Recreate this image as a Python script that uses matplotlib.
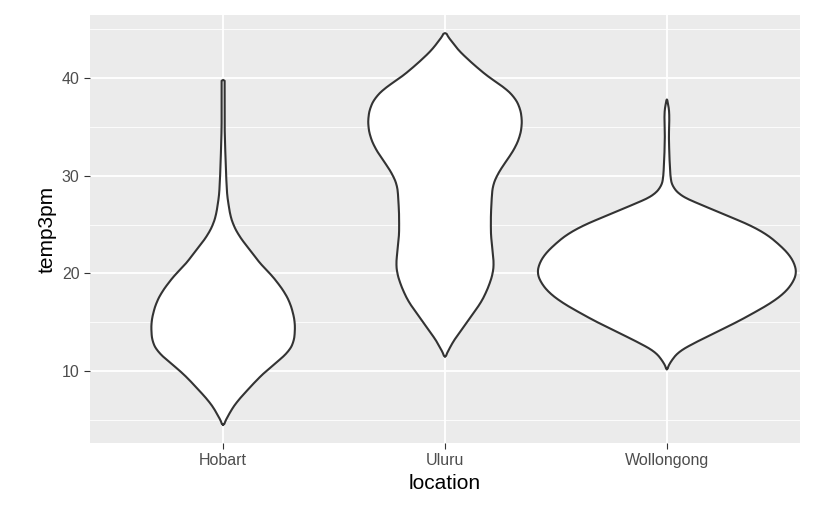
import numpy as np
import matplotlib.pyplot as plt

plt.rcParams['font.family'] = ['Liberation Sans', 'DejaVu Sans']

locations = ["Hobart", "Uluru", "Wollongong"]

# violin outlines: temperature -> half width (pixels)
hobart_y = [4.5, 5, 6, 7, 8, 9, 10, 11, 12, 13, 14, 15, 16, 17, 18, 19, 20, 21, 22, 23, 24, 25, 26, 28, 30, 33, 35, 39.8]
hobart_w = [0, 3, 8, 15, 24, 33, 43, 55, 66, 71, 72, 72, 70, 67, 62, 55, 47, 37, 30, 22, 15, 10, 7, 4, 3, 2, 1.5, 1.5]
uluru_y = [11.5, 12, 13, 14, 15, 16, 17, 18, 19, 20, 21, 22, 24, 26, 28, 29, 30, 31, 32, 33, 34, 35, 36, 37, 38, 39, 40, 41, 42, 43, 44, 44.6]
uluru_w = [0, 3, 8, 15, 22, 29, 36, 41, 45, 48, 49, 48, 46, 46, 47, 48, 52, 58, 65, 71, 75, 77, 77, 75, 70, 60, 45, 33, 22, 12, 5, 0]
woll_y = [10.2, 11, 12, 13, 14, 15, 16, 17, 18, 19, 20, 21, 22, 23, 24, 25, 26, 27, 27.5, 28, 29, 30, 32, 34, 36, 37, 37.8]
woll_w = [0, 4, 12, 30, 50, 70, 88, 105, 118, 126, 130, 128, 122, 112, 100, 82, 58, 35, 23, 13, 5, 3.5, 2.5, 2, 2.5, 2, 0]

profiles = [(hobart_y, hobart_w), (uluru_y, uluru_w), (woll_y, woll_w)]
px_per_unit = 222.5  # pixel distance between categories


def smooth(v, n=9):
    k = np.ones(n) / n
    p = np.pad(v, n // 2, mode="edge")
    return np.convolve(p, k, mode="valid")


fig = plt.figure(figsize=(8.16, 5.28), dpi=100)
ax = fig.add_axes([90/816, 85/528, 710/816, 428/528])
ax.set_facecolor("#EBEBEB")

for i, (ys, ws) in enumerate(profiles):
    yy = np.linspace(ys[0], ys[-1], 400)
    ww = smooth(np.interp(yy, ys, ws), 15) / px_per_unit
    ww[0] = ww[-1] = 0
    x0 = i + 1
    ax.fill_betweenx(yy, x0 - ww, x0 + ww, facecolor="white", edgecolor="none", zorder=3)
    xs = np.concatenate([x0 - ww, (x0 + ww)[::-1], [x0 - ww[0]]])
    yl = np.concatenate([yy, yy[::-1], [yy[0]]])
    ax.plot(xs, yl, color="#333333", lw=1.5, zorder=4)

ax.set_xlim(0.4, 3.6)
ax.set_ylim(2.63, 46.45)
ax.set_xticks([1, 2, 3])
ax.set_xticklabels(locations)
ax.set_yticks([10, 20, 30, 40])
ax.set_yticks([5, 15, 25, 35, 45], minor=True)
ax.grid(which="major", color="white", lw=1.3)
ax.grid(which="minor", axis="y", color="white", lw=0.6)
ax.set_axisbelow(True)
for s in ax.spines.values():
    s.set_visible(False)
ax.tick_params(which="major", length=4, color="#333333", labelcolor="#4D4D4D", labelsize=11.5)
ax.tick_params(which="minor", length=0)
ax.set_xlabel("location", fontsize=15)
ax.set_ylabel("temp3pm", fontsize=15)

fig.savefig("out.png")
